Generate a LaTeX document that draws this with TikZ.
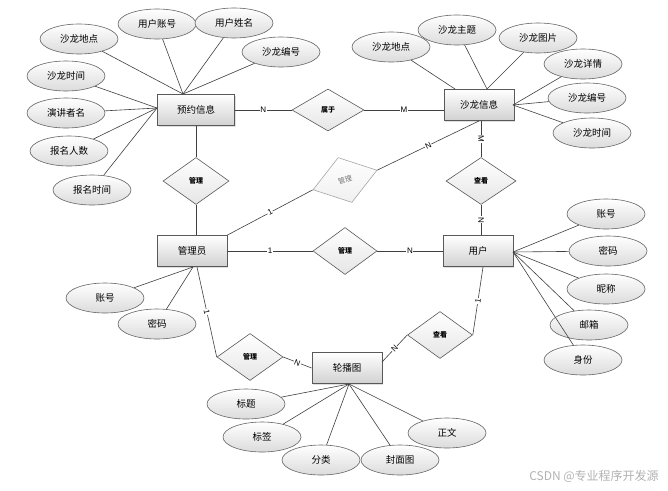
\documentclass[tikz,border=0pt]{standalone}
\usepackage{fontspec}
\newfontfamily\cjk{Noto Sans CJK SC}
\setsansfont{Liberation Sans}
\usetikzlibrary{shapes.geometric,shadows}
\begin{document}
\begin{tikzpicture}[x=1pt,y=-1pt,
 ent/.style={rectangle, draw=black!65, line width=0.9pt, minimum width=70pt, minimum height=31pt, inner sep=0pt, top color=white, bottom color=black!18, font=\cjk\fontsize{9.5}{11}\selectfont, drop shadow={opacity=0.25, shadow xshift=1pt, shadow yshift=-1pt}},
 attr/.style={ellipse, draw=black!60, line width=0.6pt, minimum width=78pt, minimum height=30pt, inner sep=0pt, top color=white, bottom color=black!14, font=\cjk\fontsize{9.5}{11}\selectfont},
 rel/.style={diamond, draw=black!65, line width=0.6pt, minimum width=66pt, minimum height=47pt, inner sep=0pt, top color=white, bottom color=black!10, font=\cjk\bfseries\fontsize{7}{8}\selectfont},
 link/.style={draw=black!75, line width=0.6pt},
 card/.style={fill=white, inner sep=0.6pt, font=\sffamily\fontsize{8}{9}\selectfont}
]
\useasboundingbox (0,0) rectangle (668,490);
\fill[white] (0,0) rectangle (668,490);

% entities
\node[ent, minimum width=77pt] (yy) at (196,110) {预约信息};
\node[ent] (sl) at (479,105) {沙龙信息};
\node[ent] (gly) at (192,251) {管理员};
\node[ent] (yh) at (478,251) {用户};
\node[ent] (lbt) at (347,368) {轮播图};

% relations
\node[rel, minimum width=72pt, minimum height=42pt] (shuyu) at (328,110) {属于};
\node[rel] (gl1) at (196,181) {管理};
\node[rel, draw=black!35, bottom color=black!6, rotate=17, minimum width=67pt, font=\cjk\fontsize{7}{8}\selectfont, text=black!55] (gl2) at (345,180) {管理};
\node[rel, minimum width=70pt] (ck1) at (481,181) {查看};
\node[rel, minimum width=64pt] (gl3) at (345,251) {管理};
\node[rel, minimum width=65pt] (ck2) at (440,335) {查看};
\node[rel] (gl4) at (250,357) {管理};

% attributes of 预约信息
\node[attr] (a1) at (79,39) {沙龙地点};
\node[attr] (a2) at (157,24) {用户账号};
\node[attr] (a3) at (234,23) {用户姓名};
\node[attr] (a4) at (281,52) {沙龙编号};
\node[attr] (a5) at (66,76) {沙龙时间};
\node[attr] (a6) at (66,113) {演讲者名};
\node[attr] (a7) at (69,151) {报名人数};
\node[attr] (a8) at (92,190) {报名时间};
% attributes of 沙龙信息
\node[attr] (b1) at (391,47) {沙龙地点};
\node[attr] (b2) at (457,30) {沙龙主题};
\node[attr] (b3) at (538,38) {沙龙图片};
\node[attr] (b4) at (583,64) {沙龙详情};
\node[attr] (b5) at (587,98) {沙龙编号};
\node[attr] (b6) at (592,133) {沙龙时间};
% attributes of 管理员
\node[attr] (c1) at (105,298) {账号};
\node[attr] (c2) at (157,324) {密码};
% attributes of 用户
\node[attr] (d1) at (606,214) {账号};
\node[attr] (d2) at (608,251) {密码};
\node[attr] (d3) at (606,289) {昵称};
\node[attr] (d4) at (589,325) {邮箱};
\node[attr] (d5) at (583,360) {身份};
% attributes of 轮播图
\node[attr] (e1) at (246,404) {标题};
\node[attr] (e2) at (262,437) {标签};
\node[attr] (e3) at (321,460) {分类};
\node[attr] (e4) at (400,460) {封面图};
\node[attr] (e5) at (447,433) {正文};

% hub points
\coordinate (yyT) at (183,94);
\coordinate (yyL) at (157,108);
\coordinate (slT1) at (455,89);
\coordinate (slT2) at (487,89);
\coordinate (slR) at (513,105);
\coordinate (glyB) at (193,267);
\coordinate (glyB2) at (197,267);
\coordinate (yhR) at (513,252);
\coordinate (yhB) at (483,267);
\coordinate (lbtB) at (349,384);
\coordinate (lbtR) at (382,362);

% attribute links
\foreach \n in {a1,a2,a3,a4} \draw[link] (yyT) -- (\n);
\foreach \n in {a5,a6,a7,a8} \draw[link] (yyL) -- (\n);
\draw[link] (slT1) -- (b1);
\foreach \n in {b2,b3} \draw[link] (slT2) -- (\n);
\foreach \n in {b4,b5,b6} \draw[link] (slR) -- (\n);
\foreach \n in {c1,c2} \draw[link] (glyB) -- (\n);
\foreach \n in {d1,d2,d3,d4,d5} \draw[link] (yhR) -- (\n);
\foreach \n in {e1,e2,e3,e4,e5} \draw[link] (lbtB) -- (\n);

% relationship links
\draw[link] (yy.east) -- (shuyu.west) node[card,midway]{N};
\draw[link] (shuyu.east) -- (shuyu.east -| sl.west) node[card,midway]{M};
\draw[link] (yy.south) -- (gl1.north);
\draw[link] (gl1.south) -- (gl1.south |- gly.north);
\draw[link] (gly.north east) -- (gl2.west) node[card,midway,sloped]{1};
\draw[link] (gl2.east) -- (sl.south) node[card,midway,sloped]{N};
\draw[link] (ck1.north |- sl.south) -- (ck1.north) node[card,midway,sloped]{M};
\draw[link] (ck1.south) -- (ck1.south |- yh.north) node[card,midway,sloped]{N};
\draw[link] (gly.east) -- (gl3.west) node[card,midway]{1};
\draw[link] (gl3.east) -- (yh.west) node[card,midway]{N};
\draw[link] (glyB2) -- (gl4.west) node[card,midway,sloped]{1};
\draw[link] (gl4.east) -- (lbt.west) node[card,midway,sloped]{N};
\draw[link] (yhB) -- (ck2.east) node[card,midway,sloped]{1};
\draw[link] (ck2.west) -- (lbtR) node[card,midway,sloped]{N};

% watermark
\node[font=\cjk\fontsize{12}{13}\selectfont, text=black!30] (wm) at (594,476) {CSDN @专业程序开发源};
\end{tikzpicture}
\end{document}
